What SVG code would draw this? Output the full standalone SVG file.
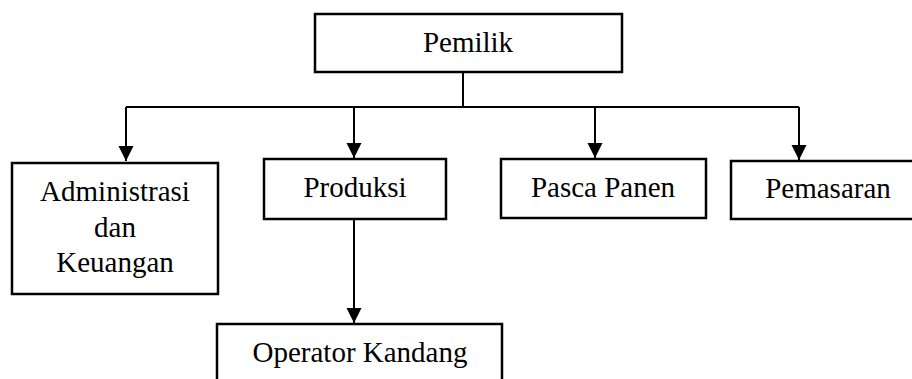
<svg xmlns="http://www.w3.org/2000/svg" width="912" height="379" viewBox="0 0 912 379">
  <style>
    .box { fill: #ffffff; stroke: #000000; stroke-width: 2.5; }
    .lbl { font-size: 29px; fill: #000000; text-anchor: middle; }
    .conn { fill: none; stroke: #000000; stroke-width: 2; }
  </style>
  <defs>
    <marker id="arrow" markerUnits="userSpaceOnUse" markerWidth="16" markerHeight="17" refX="15" refY="7.5" orient="auto">
      <path d="M0,0 L15,7.5 L0,15 Z" fill="#000000"/>
    </marker>
  </defs>
  <rect width="912" height="379" fill="#ffffff"/>
  <g id="connectors">
    <path class="conn" d="M463,72 V107"/>
    <path class="conn" d="M126,107 H799"/>
    <path class="conn" d="M126,107 V161" marker-end="url(#arrow)"/>
    <path class="conn" d="M354,107 V158" marker-end="url(#arrow)"/>
    <path class="conn" d="M595,107 V158" marker-end="url(#arrow)"/>
    <path class="conn" d="M799,107 V160" marker-end="url(#arrow)"/>
    <path class="conn" d="M354,219 V323" marker-end="url(#arrow)"/>
  </g>
  <g font-family="Liberation Serif, Times New Roman, serif">
  <g id="pemilik">
    <rect class="box" x="315" y="14" width="307" height="58"/>
    <text class="lbl" x="468" y="52">Pemilik</text>
  </g>
  <g id="administrasi">
    <rect class="box" x="12" y="163" width="206" height="131"/>
    <text class="lbl" x="115" y="201">Administrasi</text>
    <text class="lbl" x="115" y="237">dan</text>
    <text class="lbl" x="115" y="272">Keuangan</text>
  </g>
  <g id="produksi">
    <rect class="box" x="264" y="159" width="182" height="60"/>
    <text class="lbl" x="355" y="197">Produksi</text>
  </g>
  <g id="pasca-panen">
    <rect class="box" x="501" y="159" width="205" height="59"/>
    <text class="lbl" x="603" y="197">Pasca Panen</text>
  </g>
  <g id="pemasaran">
    <rect class="box" x="731" y="161" width="194" height="58"/>
    <text class="lbl" x="828" y="198">Pemasaran</text>
  </g>
  <g id="operator-kandang">
    <rect class="box" x="217" y="324" width="285" height="70"/>
    <text class="lbl" x="360" y="362">Operator Kandang</text>
  </g>
  </g>
</svg>
